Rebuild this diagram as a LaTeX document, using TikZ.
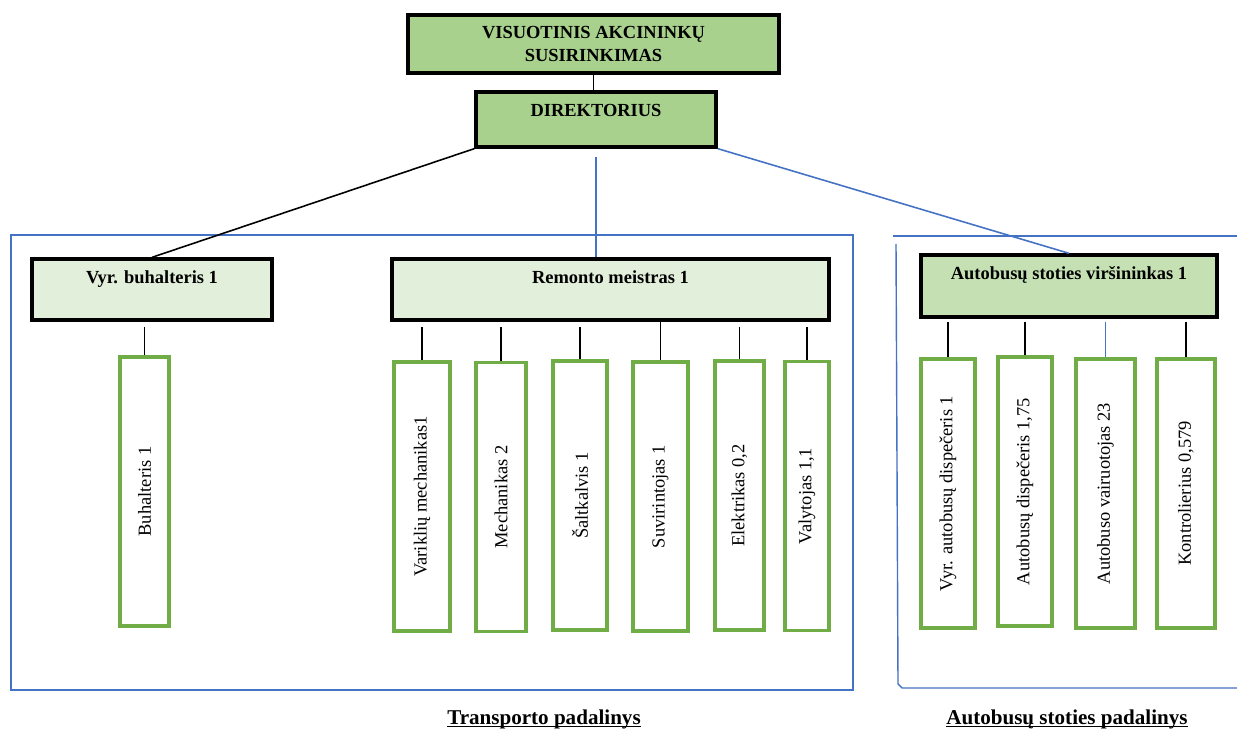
\documentclass[tikz,border=0pt]{standalone}
\usepackage{fontspec}
\setmainfont{Liberation Serif}
\usepackage{tikz}

\definecolor{headgreen}{HTML}{A9D18E}
\definecolor{midgreen}{HTML}{C5E0B3}
\definecolor{palegreen}{HTML}{E2EFDA}
\definecolor{boxgreen}{HTML}{70AD47}
\definecolor{frameblue}{HTML}{4472C4}

\tikzset{
  head/.style={draw=black, line width=2pt, inner sep=0pt,
    font=\bfseries\fontsize{10.5}{13.5}\selectfont, align=center},
  post/.style={head, text height=14pt, text depth=#1},
  staff/.style={draw=boxgreen, line width=2pt, fill=white, rotate=90, inner sep=0pt,
    font=\fontsize{10.5}{12}\selectfont, minimum width=5.38cm, minimum height=#1},
  link/.style={line width=0.9pt},
  blink/.style={draw=frameblue, line width=0.9pt},
  frame/.style={draw=frameblue, line width=0.8pt},
  unit/.style={font=\bfseries\fontsize{12}{14}\selectfont, anchor=base}
}

\begin{document}
\begin{tikzpicture}[x=0.02cm, y=-0.02cm]
    \useasboundingbox (0,0) rectangle (1237,729);
    % frames of the two units
    \draw[frame] (11,235) rectangle (853,690);
    \draw[frame] (893,236) -- (1237,236);
    \draw[frame] (896,244) -- (898,684) -- (902,688) -- (1237,688);
    % management
    \node[head, fill=headgreen, minimum width=7.42cm, minimum height=1.16cm] (vas) at (593.5,44) {VISUOTINIS AKCININKŲ\\SUSIRINKIMAS};
    \node[post=17.2pt, fill=headgreen, minimum width=4.8cm] (dir) at (596,119.5) {DIREKTORIUS};
    \node[post=20.6pt, fill=palegreen, minimum width=4.8cm] (vb) at (152,289.5) {Vyr. buhalteris 1};
    \node[post=20.6pt, fill=palegreen, minimum width=8.74cm] (rm) at (610.5,289.5) {Remonto meistras 1};
    \node[post=21.2pt, fill=midgreen, minimum width=5.92cm] (asv) at (1069,286) {Autobusų stoties viršininkas 1};
    % staff
    \node[staff=0.98cm] (buh) at (144.5,491.5) {Buhalteris 1};
    \node[staff=1.12cm] (var) at (422,496.5) {Variklių mechanikas1};
    \node[staff=1.0cm] (mech) at (501,497) {Mechanikas 2};
    \node[staff=1.08cm] (salt) at (580,495.5) {Šaltkalvis 1};
    \node[staff=1.1cm] (suv) at (660.5,496.5) {Suvirintojas 1};
    \node[staff=0.98cm] (elek) at (739.5,495.5) {Elektrikas 0,2};
    \node[staff=0.88cm] (valy) at (807,496) {Valytojas 1,1};
    \node[staff=1.08cm] (vdisp) at (948,493.5) {Vyr. autobusų dispečeris 1};
    \node[staff=1.08cm] (disp) at (1025,491.5) {Autobusų dispečeris 1,75};
    \node[staff=1.18cm] (vair) at (1105.5,493.5) {Autobuso vairuotojas 23};
    \node[staff=1.16cm] (kont) at (1186,493.5) {Kontrolierius 0,579};
    % connectors
    \draw[link] (vas.south) -- (vas.south |- dir.north);
    \draw[link] (dir.south west) -- (vb.north);
    \draw[blink] ([yshift=-4.5pt]dir.south) -- (dir.south |- rm.north);
    \draw[blink] (dir.south east) -- (asv.north);
    \draw[link] (buh.east) -- ([yshift=-3pt]buh.east |- vb.south);
    \foreach \n in {var,mech,salt,elek,valy}
      \draw[link] (\n.east) -- ([yshift=-3pt]\n.east |- rm.south);
    \draw[link] (suv.east) -- (suv.east |- rm.south);
    \foreach \n in {vdisp,disp,kont}
      \draw[link] (\n.east) -- ([yshift=-2pt]\n.east |- asv.south);
    \draw[blink] (vair.east) -- ([yshift=-2pt]vair.east |- asv.south);
    % unit names
    \node[unit] (tp) at (544,724) {\underline{\smash{Transporto padalinys}}};
    \node[unit] (asp) at (1067,724) {\underline{\smash{Autobusų stoties padalinys}}};
\end{tikzpicture}
\end{document}
